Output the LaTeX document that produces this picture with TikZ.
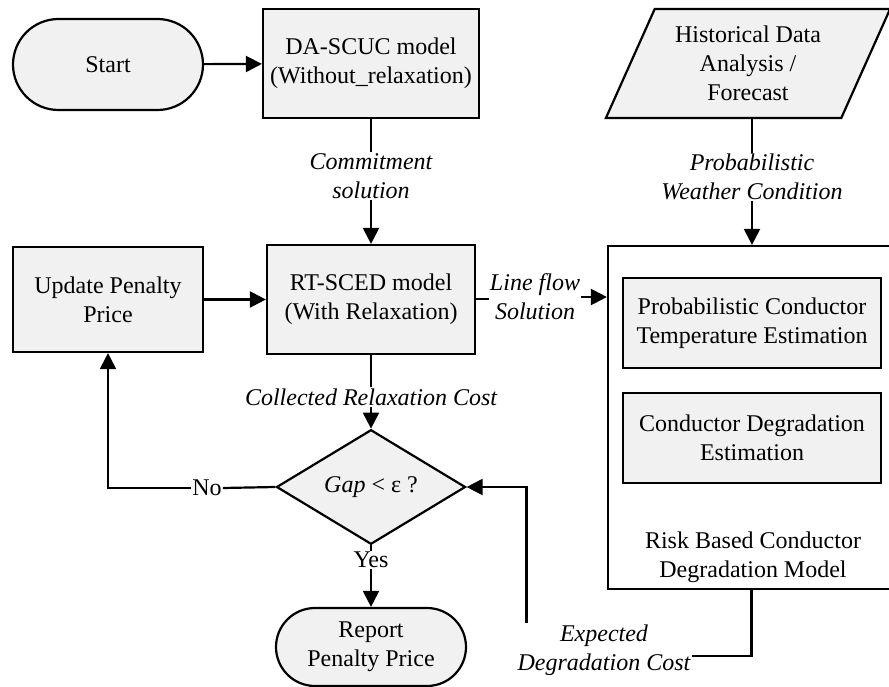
\documentclass[tikz,border=0pt]{standalone}
\usepackage{fontspec}
\setmainfont{Liberation Serif}
\usetikzlibrary{arrows.meta,shapes.geometric}
\definecolor{boxfill}{HTML}{F1F1F1}
\tikzset{
  every node/.style={font=\fontsize{24}{29}\selectfont, align=center},
  procbox/.style={draw, fill=boxfill, line width=2.2pt, rectangle, inner sep=0pt},
  termbox/.style={draw, fill=boxfill, line width=2.2pt, rectangle, inner sep=0pt},
  decbox/.style={draw, fill=boxfill, line width=2.2pt, diamond, inner sep=0pt,
    minimum width=189pt, minimum height=78pt},
  iobox/.style={draw, fill=boxfill, line width=2.2pt, trapezium, trapezium left angle=63,
    trapezium right angle=117, trapezium stretches=true, inner sep=0pt},
  flowlabel/.style={font=\fontsize{24}{29}\selectfont\itshape, inner sep=1pt},
  plainlabel/.style={inner sep=1pt},
  link/.style={line width=2.2pt},
  flow/.style={line width=2.2pt, -{Triangle[length=16pt,width=16pt]}}
}
\begin{document}
\begin{tikzpicture}[x=1pt, y=-1pt]
\useasboundingbox (0,0) rectangle (889,687);

% process blocks
\node[termbox, rounded corners=45.5pt, minimum width=190pt, minimum height=91pt] (start) at (108,64.5) {Start};
\node[procbox, minimum width=216pt, minimum height=109pt] (dascuc) at (371,63.5) {DA-SCUC model\\(Without\_relaxation)};
\node[procbox, minimum width=208pt, minimum height=109pt] (rtsced) at (371,299.5) {RT-SCED model\\(With Relaxation)};
\node[procbox, minimum width=190pt, minimum height=105pt] (update) at (108,299.5) {Update Penalty\\Price};
\node[decbox] (gap) at (371,487) {\textit{Gap} < ε ?};
\node[termbox, rounded corners=39pt, minimum width=190pt, minimum height=78pt] (report) at (371,647) {Report\\Penalty Price};

% risk based degradation model
\node[iobox, minimum width=285pt, minimum height=109pt] (hist) at (748,63.5) {Historical Data\\Analysis /\\Forecast};
\node[draw, line width=2.2pt, rectangle, minimum width=287pt, minimum height=343pt, inner sep=0pt] (risk) at (751.5,417.5) {};
\node[procbox, minimum width=258pt, minimum height=90pt] (temp) at (752,323) {Probabilistic Conductor\\Temperature Estimation};
\node[procbox, minimum width=258pt, minimum height=90pt] (degr) at (752,438) {Conductor Degradation\\Estimation};
\node[plainlabel] (risktitle) at (753,557) {Risk Based Conductor\\Degradation Model};

% connector labels
\node[flowlabel] (commit) at (371,176) {Commitment\\solution};
\node[flowlabel] (weather) at (752,177) {Probabilistic\\Weather Condition};
\node[flowlabel] (relax) at (371,397) {Collected Relaxation Cost};
\node[flowlabel] (lineflow) at (535,297) {Line flow\\Solution};
\node[plainlabel] (no) at (207,488) {No};
\node[plainlabel] (yes) at (371,560) {Yes};
\node[flowlabel] (expected) at (604,650) {Expected\\Degradation Cost};
\coordinate (expin) at ([xshift=10pt]expected.north west);

% connectors
\draw[flow] (start) -- (dascuc);
\draw[link] (dascuc.south) -- (commit.north);
\draw[flow] (commit.south) -- (rtsced.north);
\draw[flow] (update) -- (rtsced);
\draw[link] (rtsced.south) -- (relax.north);
\draw[flow] (relax.south) -- (gap.north);
\draw[link] (gap.west) -- (no.east);
\draw[flow] (no.west) -| (update.south);
\draw[link] (gap.south) -- (yes.north);
\draw[flow] (yes.south) -- (report.north);
\draw[link] (hist.south -| weather) -- (weather.north);
\draw[flow] (weather.south) -- (weather.south |- risk.north);
\draw[link] (rtsced.east |- 0,299) -- (lineflow.west |- 0,299);
\draw[flow] (lineflow.east) -- (lineflow.east -| risk.west);
\draw[link] (risk.south) |- ([yshift=-6pt]expected.east);
\draw[flow] (expin) |- (gap.east);
\end{tikzpicture}
\end{document}
